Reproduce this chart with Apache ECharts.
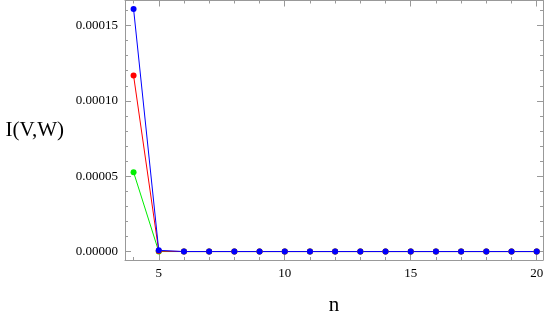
<!DOCTYPE html>
<html>
<head>
<meta charset="utf-8">
<script src="https://cdn.jsdelivr.net/npm/echarts@6/dist/echarts.min.js"></script>
<style>html,body{margin:0;padding:0;background:#fff}#c{width:545px;height:317px}</style>
</head>
<body>
<div id="c"></div>
<script>
var nValues = [4,5,6,7,8,9,10,11,12,13,14,15,16,17,18,19,20];
var blueValues = [0.000161,0.0000008,0,0,0,0,0,0,0,0,0,0,0,0,0,0,0];
var redValues = [0.0001168,0.0000003,0,0,0,0,0,0,0,0,0,0,0,0,0,0,0];
var greenValues = [0.0000527,0,0,0,0,0,0,0,0,0,0,0,0,0,0,0,0];
var xMajorTicks = [5,10,15,20];
var xMinorTicks = [4,5,6,7,8,9,10,11,12,13,14,15,16,17,18,19,20];
var yMajorTicks = [0,0.00005,0.0001,0.00015];
var yMinorTicks = [0,0.00001,0.00002,0.00003,0.00004,0.00005,0.00006,0.00007,0.00008,0.00009,0.0001,0.00011,0.00012,0.00013,0.00014,0.00015,0.00016];

var FONT = '"Liberation Serif", "DejaVu Serif", serif';
var FRAME = '#999999';
var X_MIN = 3.66, X_MAX = 20.25, Y_MIN = -0.0000056, Y_MAX = 0.0001666;
var LABEL_RICH = {t:{fontFamily:FONT, fontSize:13, color:'#000'}};

function pairs(vals){ return nValues.map(function(n,i){ return [n, vals[i]]; }); }

function xAx(pos, labels, ticks, len, line){
  return {
    type:'value', position:pos, min:X_MIN, max:X_MAX,
    axisLine:{show:line, onZero:false, lineStyle:{color:FRAME, width:1}},
    axisTick:{show:true, inside:true, length:len, customValues:ticks, lineStyle:{color:FRAME, width:1}},
    axisLabel:{show:labels, customValues:xMajorTicks, margin:7, color:'#000', fontFamily:FONT, fontSize:13,
      rich:LABEL_RICH, formatter:function(v){ return '{t|' + Math.round(v) + '}'; }},
    splitLine:{show:false}
  };
}
function yAx(pos, labels, ticks, len, line){
  return {
    type:'value', position:pos, min:Y_MIN, max:Y_MAX,
    axisLine:{show:line, onZero:false, lineStyle:{color:FRAME, width:1}},
    axisTick:{show:true, inside:true, length:len, customValues:ticks, lineStyle:{color:FRAME, width:1}},
    axisLabel:{show:labels, customValues:yMajorTicks, margin:7, color:'#000', fontFamily:FONT, fontSize:13,
      rich:LABEL_RICH, formatter:function(v){ return '{t|' + v.toFixed(5) + '}'; }},
    splitLine:{show:false}
  };
}

var xAxes = [
  xAx('bottom', true, xMinorTicks, 3, true),
  xAx('bottom', false, xMajorTicks, 6, false),
  xAx('top', false, xMinorTicks, 3, true),
  xAx('top', false, xMajorTicks, 6, false)
];
xAxes[0].name = 'n';
xAxes[0].nameLocation = 'middle';
xAxes[0].nameGap = 35;
xAxes[0].nameTextStyle = {fontFamily:FONT, fontSize:21, color:'#000'};

var yAxes = [
  yAx('left', true, yMinorTicks, 3, true),
  yAx('left', false, yMajorTicks, 6, false),
  yAx('right', false, yMinorTicks, 3, true),
  yAx('right', false, yMajorTicks, 6, false)
];
yAxes[0].name = 'I(V,W)';
yAxes[0].nameLocation = 'middle';
yAxes[0].nameRotate = 0;
yAxes[0].nameGap = 61;
yAxes[0].nameTextStyle = {fontFamily:FONT, fontSize:21, color:'#000', align:'right', verticalAlign:'middle'};

function ser(name, vals, color){
  return {
    name:name, type:'line', data:pairs(vals), xAxisIndex:0, yAxisIndex:0,
    symbol:'circle', symbolSize:6, showSymbol:true,
    lineStyle:{color:color, width:1}, itemStyle:{color:color},
    animation:false, silent:true
  };
}

var chart = echarts.init(document.getElementById('c'), null, {renderer:'canvas'});
chart.setOption({
  animation:false,
  backgroundColor:'#fff',
  textStyle:{fontFamily:FONT, fontSize:13, color:'#000'},
  grid:{left:125, right:2, top:0.5, bottom:57, containLabel:false, outerBoundsMode:'none'},
  xAxis:xAxes,
  yAxis:yAxes,
  series:[
    ser('green', greenValues, '#00ee00'),
    ser('red', redValues, '#ff0000'),
    ser('blue', blueValues, '#0000ff')
  ]
});
</script>
</body>
</html>
